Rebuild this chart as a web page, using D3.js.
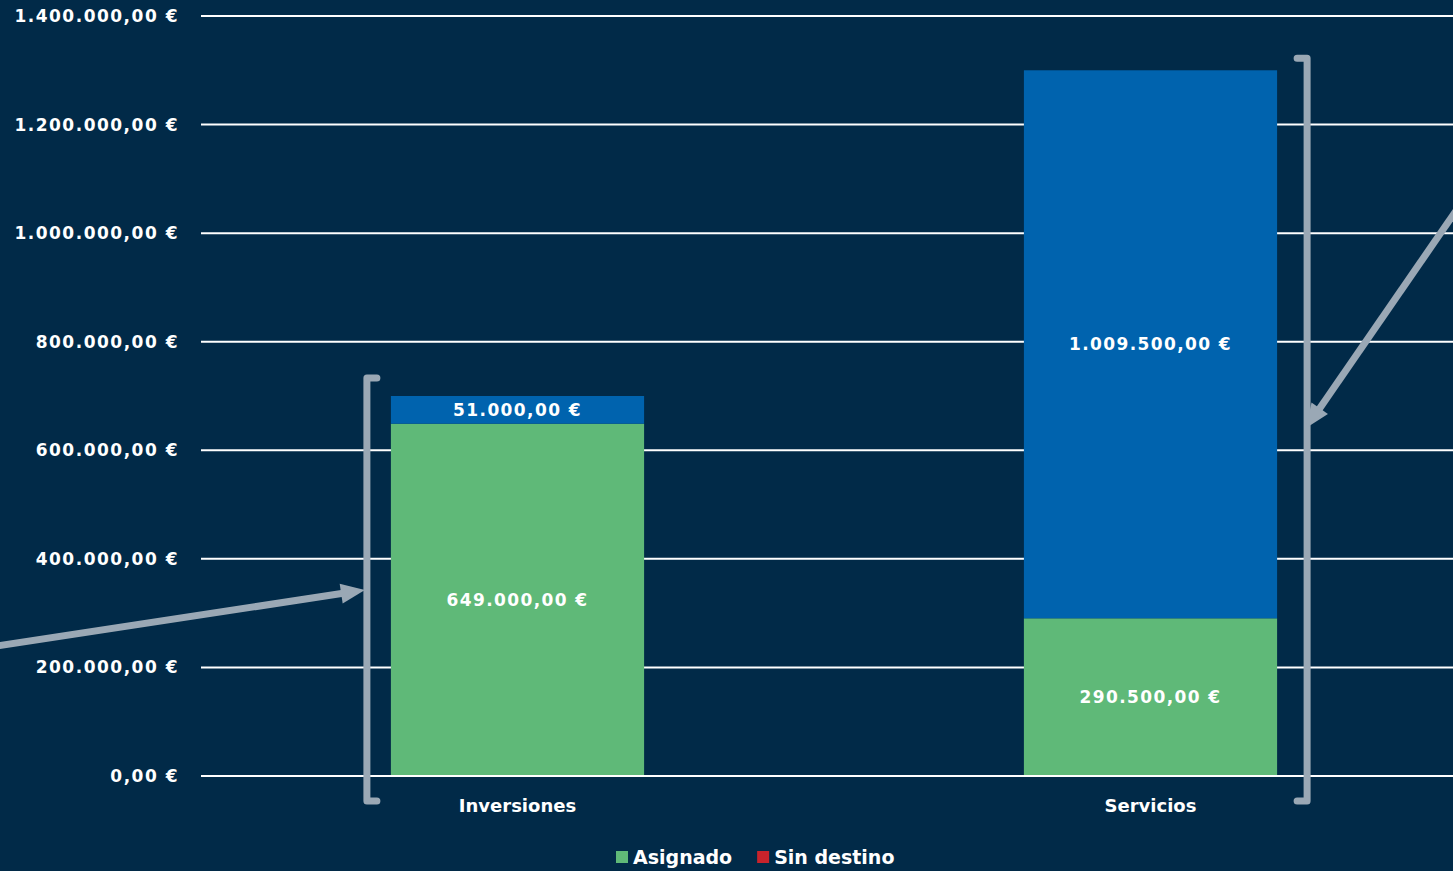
<!DOCTYPE html>
<html>
<head>
<meta charset="utf-8">
<script src="https://cdn.jsdelivr.net/npm/d3@7"></script>
<style>
  html, body { margin: 0; padding: 0; background: #012a48; overflow: hidden; }
  svg { display: block; }
</style>
</head>
<body>
<div id="chart"></div>
<script>
// data
const categories = ['Inversiones', 'Servicios']
const asignado = [649000, 290500]
const pendiente = [51000, 1009500]   // blue segment, not in the legend
const sinDestino = [0, 0]
const yTicks = [0, 200000, 400000, 600000, 800000, 1000000, 1200000, 1400000]
const legendItems = [
  { name: 'Asignado', color: '#5fb978' },
  { name: 'Sin destino', color: '#c8232b' }
]

const W = 1453, H = 871
const margin = { top: 16, right: -14, bottom: 95, left: 201 }
const font = 'DejaVu Sans, sans-serif'

const es = d3.formatLocale({ decimal: ',', thousands: '.', grouping: [3], currency: ['', ' €'] })
const fmt = es.format('$,.2f')

const svg = d3.select('#chart').append('svg')
  .attr('width', W).attr('height', H)

svg.append('rect').attr('width', W).attr('height', H).attr('fill', '#012a48')

const x = d3.scaleBand().domain(categories)
  .range([margin.left, W - margin.right]).paddingInner(0.6).paddingOuter(0.3)
const y = d3.scaleLinear().domain([0, 1400000]).range([H - margin.bottom, margin.top])

// gridlines
svg.append('g').selectAll('line').data(yTicks.filter(d => d > 0)).join('line')
  .attr('x1', margin.left).attr('x2', W)
  .attr('y1', d => y(d)).attr('y2', d => y(d))
  .attr('stroke', '#fff').attr('stroke-width', 2)

// stacked bars
const rows = categories.map((c, i) => ({ cat: c, asignado: asignado[i], pendiente: pendiente[i], sinDestino: sinDestino[i] }))
const stack = d3.stack().keys(['asignado', 'pendiente', 'sinDestino'])(rows)
const colors = { asignado: '#5fb978', pendiente: '#0063ae', sinDestino: '#c8232b' }

stack.forEach(layer => {
  const g = svg.append('g')
  g.selectAll('rect').data(layer).join('rect')
    .attr('x', d => x(d.data.cat))
    .attr('width', x.bandwidth())
    .attr('y', d => y(d[1]))
    .attr('height', d => y(d[0]) - y(d[1]))
    .attr('fill', colors[layer.key])
  g.selectAll('text').data(layer.filter(d => d[1] - d[0] > 0)).join('text')
    .attr('x', d => x(d.data.cat) + x.bandwidth() / 2)
    .attr('y', d => (y(d[0]) + y(d[1])) / 2)
    .attr('dy', '0.36em')
    .attr('text-anchor', 'middle')
    .attr('fill', '#fff')
    .style('font-family', font).style('font-weight', 'bold').style('font-size', '17px')
    .style('letter-spacing', '1.4px')
    .text(d => fmt(d[1] - d[0]))
})

// zero line on top
svg.append('line')
  .attr('x1', margin.left).attr('x2', W)
  .attr('y1', y(0)).attr('y2', y(0))
  .attr('stroke', '#fff').attr('stroke-width', 2)

// y axis labels
const yAxis = svg.append('g')
  .attr('transform', `translate(${margin.left},0)`)
  .call(d3.axisLeft(y).tickValues(yTicks).tickSize(0).tickPadding(22).tickFormat(fmt))
yAxis.select('.domain').remove()
yAxis.selectAll('text')
  .attr('fill', '#fff')
  .style('font-family', font).style('font-weight', 'bold').style('font-size', '17px')
  .style('letter-spacing', '1.5px')

// category labels
svg.append('g').selectAll('text').data(categories).join('text')
  .attr('x', d => x(d) + x.bandwidth() / 2)
  .attr('y', y(0) + 36)
  .attr('text-anchor', 'middle')
  .attr('fill', '#fff')
  .style('font-family', font).style('font-weight', 'bold').style('font-size', '18px')
  .text(d => d)

// brackets around each bar
const grey = '#9aa8b5'
const totals = categories.map((c, i) => asignado[i] + pendiente[i] + sinDestino[i])
const brackets = [
  { side: 'left', xPos: x(categories[0]) - 24, top: y(totals[0]) - 18 },
  { side: 'right', xPos: x(categories[1]) + x.bandwidth() + 30, top: y(totals[1]) - 12 }
]
brackets.forEach(b => {
  const s = b.side === 'left' ? 1 : -1
  const bottom = y(0) + 25
  svg.append('path')
    .attr('d', `M${b.xPos + s * 10},${b.top} H${b.xPos} V${bottom} H${b.xPos + s * 10}`)
    .attr('fill', 'none').attr('stroke', grey).attr('stroke-width', 7)
    .attr('stroke-linecap', 'round').attr('stroke-linejoin', 'round')
})

// arrows pointing to the brackets
function arrow(x0, y0, x1, y1) {
  const ang = Math.atan2(y1 - y0, x1 - x0)
  const len = 24, half = 10
  const bx = x1 - len * Math.cos(ang), by = y1 - len * Math.sin(ang)
  svg.append('line')
    .attr('x1', x0).attr('y1', y0).attr('x2', bx + 2 * Math.cos(ang)).attr('y2', by + 2 * Math.sin(ang))
    .attr('stroke', grey).attr('stroke-width', 7)
  svg.append('path')
    .attr('d', `M${x1},${y1} L${bx - half * Math.sin(ang)},${by + half * Math.cos(ang)} L${bx + half * Math.sin(ang)},${by - half * Math.cos(ang)} Z`)
    .attr('fill', grey)
}
arrow(-10, 647, brackets[0].xPos - 2, 590)
arrow(1480, 176, brackets[1].xPos - 1, 428)

// legend
const legend = svg.append('g').attr('transform', `translate(616, ${H - 7})`)
let lx = 0
legendItems.forEach(item => {
  const g = legend.append('g').attr('transform', `translate(${lx},0)`)
  g.append('rect').attr('x', 0).attr('y', -13).attr('width', 12).attr('height', 12).attr('fill', item.color)
  const t = g.append('text').attr('x', 17).attr('y', 0)
    .attr('fill', '#fff')
    .style('font-family', font).style('font-weight', 'bold').style('font-size', '19px')
    .text(item.name)
  lx += 17 + t.node().getComputedTextLength() + 25
})
</script>
</body>
</html>
